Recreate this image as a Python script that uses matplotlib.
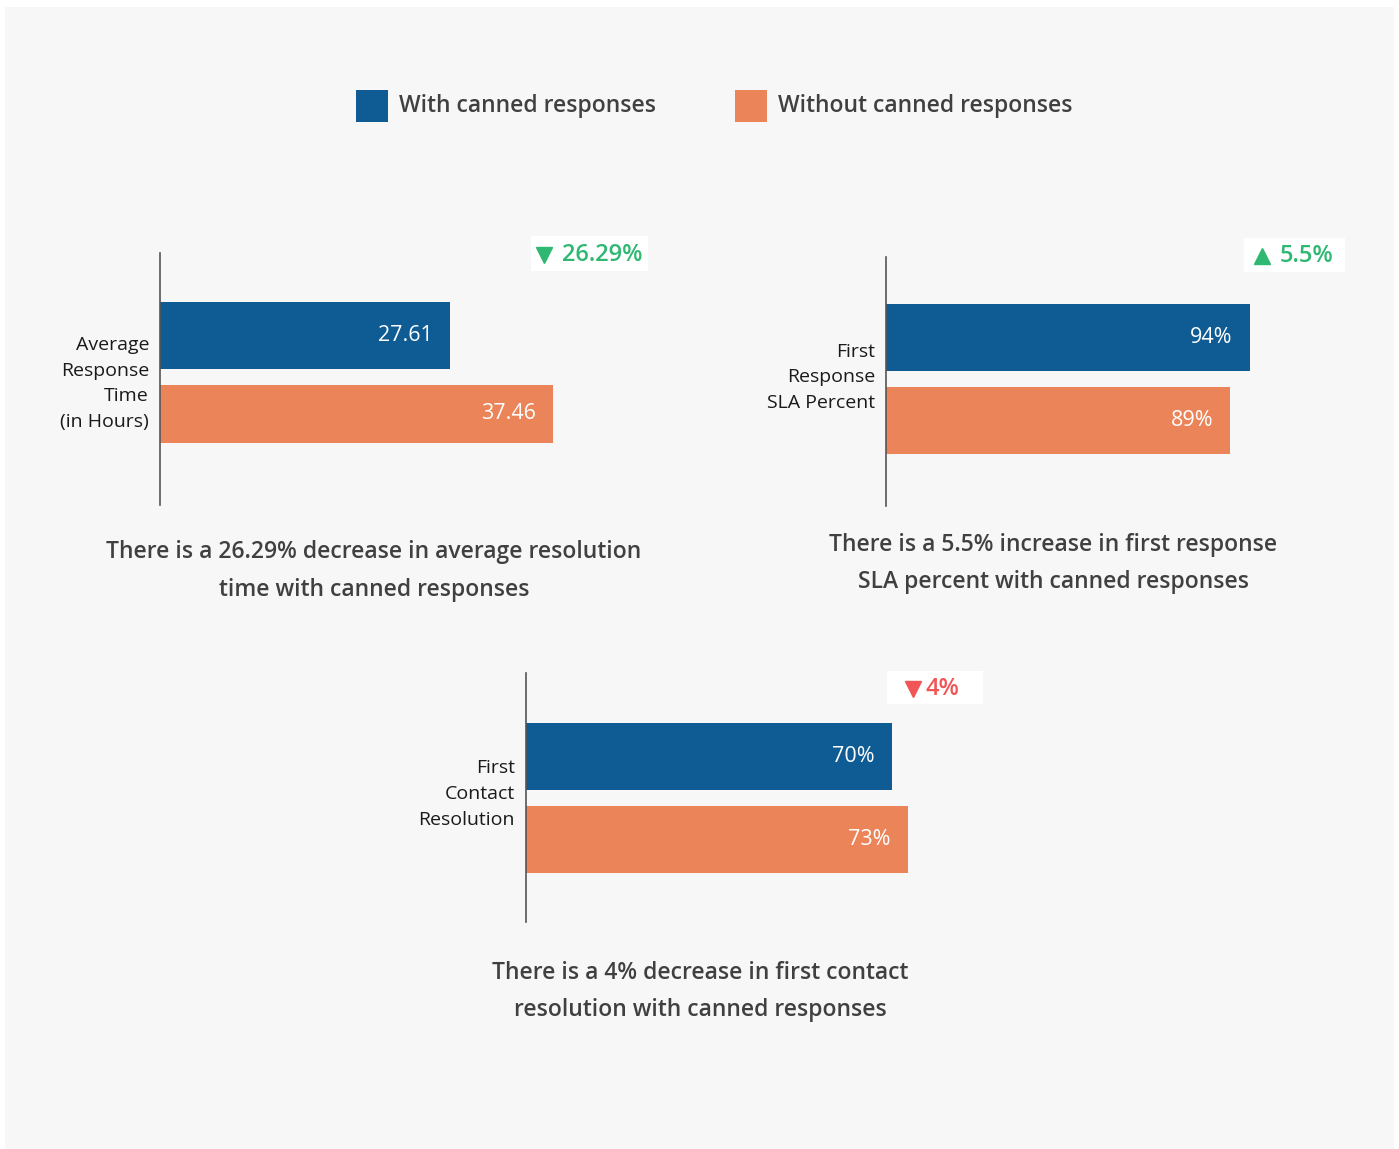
import matplotlib
matplotlib.use("Agg")
import matplotlib.pyplot as plt
from matplotlib.patches import Rectangle

# data
metrics = ["Average\nResponse\nTime\n(in Hours)",
           "First\nResponse\nSLA Percent",
           "First\nContact\nResolution"]
with_canned = [27.61, 94, 70]
without_canned = [37.46, 89, 73]
with_labels = ["27.61", "94%", "70%"]
without_labels = ["37.46", "89%", "73%"]
changes = ["26.29%", "5.5%", "4%"]
change_dirs = ["down", "up", "down"]
change_good = [True, True, False]
captions = ["There is a 26.29% decrease in average resolution\ntime with canned responses",
            "There is a 5.5% increase in first response\nSLA percent with canned responses",
            "There is a 4% decrease in first contact\nresolution with canned responses"]
series_names = ["With canned responses", "Without canned responses"]

BLUE = "#0f5c94"
ORANGE = "#ec8459"
GREEN = "#2eb872"
RED = "#f25555"
TXT = "#404040"
FONT = ["Open Sans", "DejaVu Sans"]

W, H = 1399, 1149
fig = plt.figure(figsize=(W / 100, H / 100), dpi=100, facecolor="white")

# overlay in pixel coords for background, legend, badges, captions
bg = fig.add_axes([0, 0, 1, 1], zorder=0)
bg.set_xlim(0, W)
bg.set_ylim(H, 0)
bg.axis("off")
bg.add_patch(Rectangle((5, 7), 1389, 1142, color="#f7f7f7", lw=0))

# legend
for (sx, tx), name, col in zip([(356, 399), (735, 778)], series_names, [BLUE, ORANGE]):
    bg.add_patch(Rectangle((sx, 90), 32, 32, color=col, lw=0))
    bg.text(tx, 106, name, ha="left", va="center", fontsize=16.5, color=TXT,
            family=FONT, fontweight="semibold")

# panel layout in pixels: axis x, top, bottom, bar centers, bar heights, px per unit
layout = [
    dict(x=160, top=253, bottom=505, c=(335.3, 414.0), h=(66.7, 57.4), scale=10.5, lab_y=383.5,
         badge=(531, 236, 117, 35), tri_x=543.5, txt_x=562, cap=(374, 552)),
    dict(x=886, top=257, bottom=506, c=(337.5, 420.5), h=(66.7, 66.7), scale=3.87, lab_y=377.5,
         badge=(1244, 238, 101, 34), tri_x=1261.5, txt_x=1280, cap=(1053, 545)),
    dict(x=526, top=673, bottom=922, c=(756.5, 839.5), h=(66.7, 66.7), scale=5.23, lab_y=794,
         badge=(887, 671, 96, 33), tri_x=912.5, txt_x=925, cap=(700, 973)),
]

for i, lo in enumerate(layout):
    ax_w = 520
    ax = fig.add_axes([lo["x"] / W, 1 - lo["bottom"] / H, ax_w / W,
                       (lo["bottom"] - lo["top"]) / H], zorder=2)
    ax.set_facecolor("none")
    s = lo["c"][1] - lo["c"][0]
    ax.set_ylim(1 + (lo["bottom"] - lo["c"][1]) / s, -(lo["c"][0] - lo["top"]) / s)
    ax.set_xlim(0, ax_w / lo["scale"])
    vals = [with_canned[i], without_canned[i]]
    labs = [with_labels[i], without_labels[i]]
    hts = [lo["h"][0] / s, lo["h"][1] / s]
    ax.barh([0, 1], vals, height=hts, color=[BLUE, ORANGE], zorder=1)
    for j in range(2):
        ax.annotate(labs[j], xy=(vals[j], j), xytext=(-17, 0), textcoords="offset pixels",
                    ha="right", va="center", color="white", fontsize=15.5, family=FONT)
    for sp in ["top", "right", "bottom"]:
        ax.spines[sp].set_visible(False)
    ax.spines["left"].set_color("#555555")
    ax.spines["left"].set_linewidth(1.2)
    ax.set_xticks([])
    ax.set_yticks([])

    # category label, right aligned left of the axis line
    bg.text(lo["x"] - 11, lo["lab_y"], metrics[i], ha="right", va="center",
            multialignment="right", fontsize=14, color="#1a1a1a", family=FONT,
            linespacing=1.56)

    # change badge
    bx, by, bw, bh = lo["badge"]
    bg.add_patch(Rectangle((bx, by), bw, bh, color="white", lw=0, zorder=3))
    col = GREEN if change_good[i] else RED
    mk = "v" if change_dirs[i] == "down" else "^"
    bg.plot(lo["tri_x"], by + bh / 2 + 1, marker=mk, ms=11, color=col, mec=col, zorder=4)
    bg.text(lo["txt_x"], by + bh / 2 + 1.5, changes[i], ha="left", va="center", fontsize=17,
            color=col, family=FONT, fontweight="semibold", zorder=4)

    # caption
    cx, cy = lo["cap"]
    bg.text(cx, cy - 12, captions[i], ha="center", va="top", fontsize=16.5, color=TXT,
            family=FONT, fontweight="semibold", linespacing=1.75)

fig.savefig("out.png", dpi=100, facecolor=fig.get_facecolor())
